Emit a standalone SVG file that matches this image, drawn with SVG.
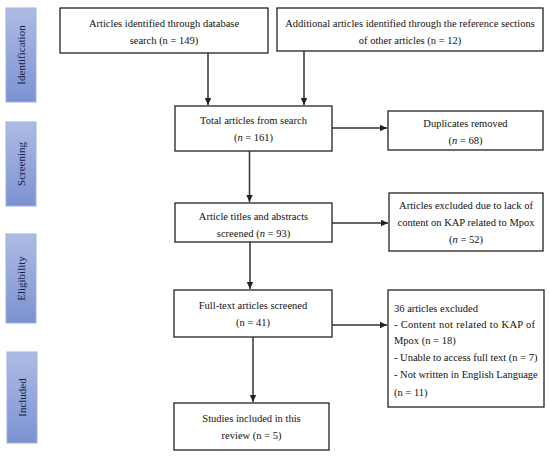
<svg xmlns="http://www.w3.org/2000/svg" width="550" height="458" viewBox="0 0 550 458" font-family="'Liberation Serif', 'Times New Roman', 'DejaVu Serif', serif">
<defs>
<linearGradient id="bar" x1="0" y1="0" x2="0" y2="1">
<stop offset="0" stop-color="#aebbe4"/>
<stop offset="1" stop-color="#7b92d2"/>
</linearGradient>
<marker id="ah" markerWidth="8" markerHeight="8" refX="7" refY="4" orient="auto" markerUnits="userSpaceOnUse">
<path d="M0,0.8 L7,4 L0,7.2 Z" fill="#222"/>
</marker>
<style>
.box{fill:#fff;stroke:#222;stroke-width:1.3}
.bar{fill:url(#bar);stroke:#9fb0de;stroke-width:1}
text{font-family:'Liberation Serif','Times New Roman','DejaVu Serif',serif;font-size:10.5px;fill:#111}
.c{text-anchor:middle}
text.side{font-size:11px;fill:#16203c;text-anchor:middle}
.conn line{stroke:#333;stroke-width:1.5;marker-end:url(#ah)}
</style>
</defs>
<rect width="550" height="458" fill="#fff"/>

<g id="stage-identification"><rect class="bar" x="6" y="8" width="30" height="94"/><text class="side" transform="translate(24.5,55) rotate(-90)">Identification</text></g>
<g id="stage-screening"><rect class="bar" x="6" y="122" width="30" height="84"/><text class="side" transform="translate(24.5,164) rotate(-90)">Screening</text></g>
<g id="stage-eligibility"><rect class="bar" x="6" y="234" width="30" height="89"/><text class="side" transform="translate(24.5,278.5) rotate(-90)">Eligibility</text></g>
<g id="stage-included"><rect class="bar" x="7" y="352" width="30" height="91"/><text class="side" transform="translate(25.5,397.5) rotate(-90)">Included</text></g>

<g id="n-db"><rect class="box" x="60" y="8" width="208" height="45"/>
<text class="c" x="164" y="27">Articles identified through database</text>
<text class="c" x="164" y="44">search (n = 149)</text></g>

<g id="n-ref"><rect class="box" x="277" y="8" width="266" height="43"/>
<text class="c" x="410" y="27">Additional articles identified through the reference sections</text>
<text class="c" x="410" y="44">of other articles (n = 12)</text></g>

<g id="n-total"><rect class="box" x="175" y="106" width="157" height="45"/>
<text class="c" x="253.5" y="124">Total articles from search</text>
<text class="c" x="253.5" y="141">(<tspan font-style="italic">n</tspan> = 161)</text></g>

<g id="n-dup"><rect class="box" x="388" y="111" width="155" height="39"/>
<text class="c" x="465.5" y="127">Duplicates removed</text>
<text class="c" x="465.5" y="144">(<tspan font-style="italic">n</tspan> = 68)</text></g>

<g id="n-titles"><rect class="box" x="175" y="203" width="157" height="39"/>
<text class="c" x="253.5" y="220">Article titles and abstracts</text>
<text class="c" x="253.5" y="237">screened (<tspan font-style="italic">n</tspan> = 93)</text></g>

<g id="n-excl"><rect class="box" x="389" y="193" width="154" height="58"/>
<text class="c" x="466" y="209">Articles excluded due to lack of</text>
<text class="c" x="466" y="226">content on KAP related to Mpox</text>
<text class="c" x="466" y="243">(<tspan font-style="italic">n</tspan> = 52)</text></g>

<g id="n-full"><rect class="box" x="174" y="290" width="158" height="47"/>
<text class="c" x="253" y="309">Full-text articles screened</text>
<text class="c" x="253" y="326">(n = 41)</text></g>

<g id="n-36"><rect class="box" x="388" y="290" width="156" height="117"/>
<text x="394" y="312">36 articles excluded</text>
<text x="394" y="328" textLength="141" lengthAdjust="spacing">- Content not related to KAP of</text>
<text x="394" y="344">Mpox (n = 18)</text>
<text x="394" y="361">- Unable to access full text (n = 7)</text>
<text x="394" y="378">- Not written in English Language</text>
<text x="394" y="396">(n = 11)</text></g>

<g id="n-studies"><rect class="box" x="174" y="403" width="155" height="47"/>
<text class="c" x="251.5" y="422">Studies included in this</text>
<text class="c" x="251.5" y="439">review (n = 5)</text></g>

<g id="connectors" class="conn">
<line x1="208" y1="53" x2="208" y2="105"/>
<line x1="304" y1="51" x2="304" y2="105"/>
<line x1="332" y1="128" x2="387" y2="128"/>
<line x1="249.5" y1="151" x2="249.5" y2="202"/>
<line x1="332" y1="223" x2="388" y2="223"/>
<line x1="250" y1="242" x2="250" y2="289"/>
<line x1="332" y1="325" x2="387" y2="325"/>
<line x1="253" y1="337" x2="253" y2="402"/>
</g>
</svg>
